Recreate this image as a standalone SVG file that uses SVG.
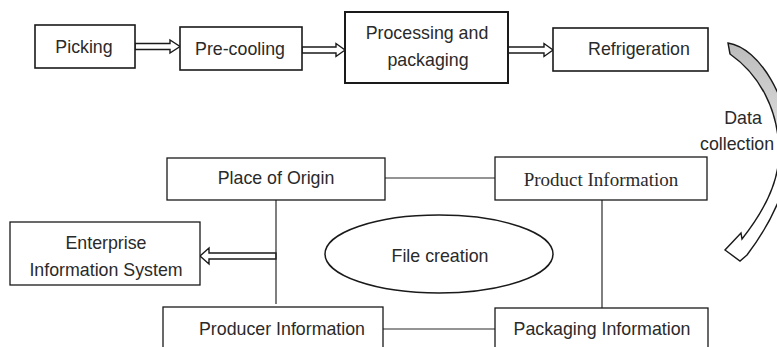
<svg xmlns="http://www.w3.org/2000/svg" width="777" height="347" viewBox="0 0 777 347">
<defs>
<style>
.box{fill:#fff;stroke:#1a1a1a;stroke-width:1.6}
.box2{fill:#fff;stroke:#1a1a1a;stroke-width:1.3}
.t{font-family:"Liberation Sans",Arial,sans-serif;font-size:17.8px;fill:#2a2a2a;text-anchor:middle}
.ts{font-family:"Liberation Serif","Times New Roman",serif;font-size:19px;fill:#2a2a2a;text-anchor:middle}
.ln{stroke:#2a2a2a;stroke-width:1.2;fill:none}
.ha{fill:#fff;stroke:#1a1a1a;stroke-width:1.4;stroke-linejoin:miter}
</style>
<linearGradient id="g" x1="0" y1="43" x2="0" y2="210" gradientUnits="userSpaceOnUse">
<stop offset="0" stop-color="#bcbcbc"/>
<stop offset="0.45" stop-color="#d6d6d6"/>
<stop offset="0.75" stop-color="#ffffff"/>
</linearGradient>
</defs>
<rect width="777" height="347" fill="#fff"/>

<g id="connectors">
<path class="ha" d="M135,43.5 H170 V40 L180,46.5 L170,53 V49.5 H135 Z"/>
<path class="ha" d="M302,47 H336 V43.5 L345,50 L336,56.5 V53 H302 Z"/>
<path class="ha" d="M508,47 H544 V43.5 L553,50 L544,56.5 V53 H508 Z"/>
<path class="ha" d="M276,253 H209 V248 L200,256 L209,264 V259 H276 Z"/>
<line class="ln" x1="385" y1="178" x2="495" y2="178"/>
<line class="ln" x1="602" y1="200" x2="602" y2="308"/>
<line class="ln" x1="276" y1="200" x2="276" y2="304"/>
<line class="ln" x1="383" y1="329" x2="495" y2="329"/>
<path d="M728,43 C760,48 790,100 790,150 C790,185 770,225 747,255 L740,261 L725,250 L741,233 L742,239 C765,210 780,180 779,150 C778,110 760,75 730,54 Z" fill="url(#g)" stroke="#1a1a1a" stroke-width="1.4" stroke-linejoin="miter"/>
<text class="t" x="743" y="124">Data</text>
<text class="t" x="700" y="150" style="text-anchor:start">collection</text>
</g>

<g id="picking"><rect class="box" x="35" y="25" width="100" height="43"/><text class="t" x="84" y="53">Picking</text></g>
<g id="precooling"><rect class="box" x="180" y="27" width="122" height="43"/><text class="t" x="240" y="55">Pre-cooling</text></g>
<g id="processing"><rect class="box" x="345" y="12" width="163" height="71" style="stroke-width:2"/><text class="t" x="427" y="39">Processing and</text><text class="t" x="428" y="66">packaging</text></g>
<g id="refrigeration"><rect class="box" x="553" y="28" width="155" height="43"/><text class="t" x="639" y="55">Refrigeration</text></g>

<g id="origin"><rect class="box2" x="167" y="158" width="218" height="42"/><text class="t" x="276" y="184">Place of Origin</text></g>
<g id="product"><rect class="box2" x="495" y="157" width="212" height="43"/><text class="ts" x="601" y="186">Product Information</text></g>
<g id="enterprise"><rect class="box2" x="10" y="222" width="190" height="63"/><text class="t" x="106" y="249">Enterprise</text><text class="t" x="106" y="276">Information System</text></g>
<g id="file"><ellipse cx="439" cy="254" rx="114" ry="39" fill="#fff" stroke="#1a1a1a" stroke-width="1.5"/><text class="t" x="440" y="262">File creation</text></g>
<g id="producer"><rect class="box2" x="163" y="307" width="220" height="60"/><text class="t" x="282" y="335">Producer Information</text></g>
<g id="packaging"><rect class="box2" x="495" y="308" width="213" height="60"/><text class="t" x="602" y="335">Packaging Information</text></g>
</svg>
